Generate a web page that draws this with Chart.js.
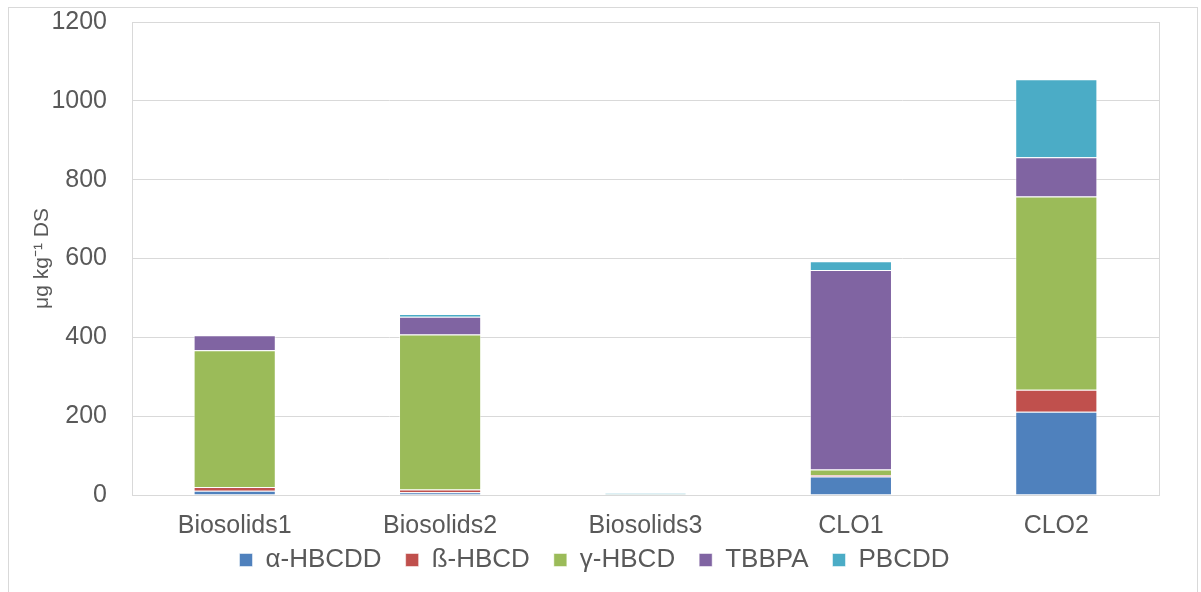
<!DOCTYPE html>
<html>
<head>
<meta charset="utf-8">
<script src="https://cdn.jsdelivr.net/npm/chart.js@4.4.1/dist/chart.umd.min.js"></script>
<style>
  html, body { margin: 0; padding: 0; background: #fff; }
  #wrap { width: 1201px; height: 592px; }
</style>
</head>
<body>
<div id="wrap"><canvas id="chart"></canvas></div>
<script>
const categories = ['Biosolids1', 'Biosolids2', 'Biosolids3', 'CLO1', 'CLO2'];
const alphaHBCDD = [11, 7, 0.5, 47, 211];
const betaHBCD = [9, 7, 0.3, 4, 56];
const gammaHBCD = [347, 393, 0.5, 14, 490];
const tbbpa = [38, 45, 0.5, 506, 100];
const pbcdd = [0, 7, 2.5, 22, 198];
const yTicks = [0, 200, 400, 600, 800, 1000, 1200];

const textColor = '#595959';
const gridColor = '#d9d9d9';
const font = 'Liberation Sans, Arial, sans-serif';

// frame around the whole chart and around the plot area
const frames = {
    id: 'frames',
    beforeDraw(chart) {
        const ctx = chart.ctx, a = chart.chartArea;
        ctx.save();
        ctx.strokeStyle = gridColor;
        ctx.lineWidth = 1;
        ctx.strokeRect(8.5, 7.5, chart.width - 12, chart.height);
        ctx.strokeRect(a.left + 0.5, a.top + 0.5, a.right - a.left, a.bottom - a.top);
        ctx.restore();
    }
};

function series(label, data, color) {
    return { label, data, backgroundColor: color, borderColor: 'rgba(255,255,255,0.5)', borderWidth: 1,
             barPercentage: 0.4, categoryPercentage: 1 };
}

new Chart(document.getElementById('chart'), {
    type: 'bar',
    data: {
        labels: categories,
        datasets: [
            series('α-HBCDD', alphaHBCDD, '#4F81BD'),
            series('ß-HBCD', betaHBCD, '#C0504D'),
            series('γ-HBCD', gammaHBCD, '#9BBB59'),
            series('TBBPA', tbbpa, '#8064A2'),
            series('PBCDD', pbcdd, '#4BACC6')
        ]
    },
    options: {
        responsive: true,
        maintainAspectRatio: false,
        animation: false,
        layout: { padding: { left: 30, top: 0, right: 42, bottom: 9 } },
        plugins: {
            tooltip: { enabled: false },
            legend: {
                position: 'bottom',
                labels: { color: textColor, font: { family: font, size: 26 }, boxWidth: 13, boxHeight: 13, padding: 24 }
            }
        },
        scales: {
            x: {
                stacked: true,
                grid: { display: false },
                border: { color: gridColor },
                // mirrored (no clipping to the thin axis box), negative padding pushes labels below the axis
                ticks: { color: textColor, font: { family: font, size: 25 }, mirror: true, padding: -46,
                         autoSkip: false, maxRotation: 0 },
                afterFit(scale) { scale.height = 28; }
            },
            y: {
                stacked: true,
                min: 0, max: 1200,
                afterBuildTicks(scale) { scale.ticks = yTicks.map(v => ({ value: v })); },
                grid: { color: gridColor, tickLength: 18, tickColor: 'rgba(0,0,0,0)' },
                border: { color: gridColor },
                ticks: { color: textColor, font: { family: font, size: 25 }, padding: 7, callback: v => String(v) },
                title: { display: true, text: 'μg kg⁻¹ DS', color: textColor, font: { family: font, size: 21 }, padding: 0 },
                afterFit(scale) { scale.width = 102; }
            }
        }
    },
    plugins: [frames]
});
</script>
</body>
</html>
